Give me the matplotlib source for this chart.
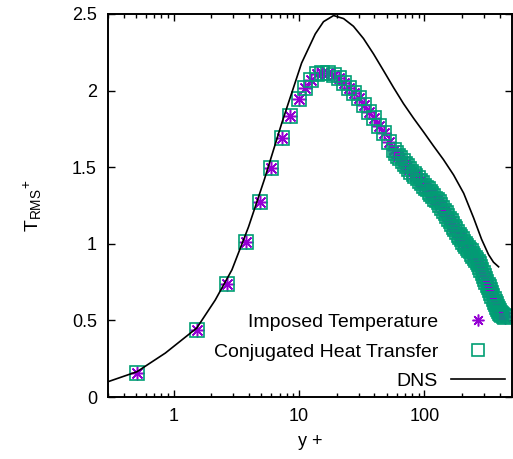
import matplotlib
matplotlib.use('Agg')
import matplotlib.pyplot as plt
from matplotlib.ticker import LogLocator, FixedLocator, NullFormatter

plt.rcParams['font.family'] = ['Liberation Sans', 'DejaVu Sans']
plt.rcParams['mathtext.default'] = 'regular'

# wall distance y+ of the LES points and the two RMS temperature profiles
y_plus = [0.513, 1.55, 2.66, 3.75, 4.91, 6.01, 7.31, 8.52, 9.93, 11.2, 12.5, 13.9,
          15.4, 17.2, 18.9, 20.7, 22.7, 24.9, 27.3, 29.9, 32.8, 35.9, 39.4, 43.2,
          47.3, 51.9, 56.8, 59.5, 62, 64.5, 67, 70, 73, 76, 79, 82, 85, 88.5, 92,
          95.5, 99, 102.5, 106, 110, 114, 118, 122, 126, 130, 134.5, 139, 143.5,
          148, 152.5, 157, 162, 167, 172, 177, 182.5, 188, 193.5, 199, 204.5, 210,
          216, 222, 228, 234, 240, 246, 252.5, 259, 265.5, 272, 278.5, 285, 292,
          299, 306, 313, 320, 327, 334.5, 342, 349.5, 357, 364.5, 372, 380, 388,
          396, 404, 412, 420, 428, 436]
t_imposed = [0.155, 0.437, 0.735, 1.01, 1.275, 1.497, 1.689, 1.834, 1.945, 2.02, 2.07,
             2.108, 2.117, 2.117, 2.10, 2.08, 2.05, 2.02, 1.986, 1.95, 1.906, 1.862,
             1.819, 1.769, 1.721, 1.666, 1.612, 1.593, 1.574, 1.557, 1.54, 1.522,
             1.505, 1.488, 1.472, 1.458, 1.445, 1.427, 1.41, 1.395, 1.38, 1.367,
             1.355, 1.34, 1.325, 1.31, 1.295, 1.283, 1.27, 1.252, 1.235, 1.217, 1.20,
             1.183, 1.165, 1.148, 1.13, 1.112, 1.095, 1.077, 1.06, 1.045, 1.03, 1.015,
             1.00, 0.987, 0.975, 0.962, 0.95, 0.935, 0.92, 0.907, 0.895, 0.882, 0.87,
             0.85, 0.83, 0.81, 0.79, 0.77, 0.75, 0.732, 0.715, 0.697, 0.68, 0.66,
             0.64, 0.622, 0.605, 0.59, 0.575, 0.562, 0.55, 0.542, 0.535, 0.53, 0.525]
t_conjugated = list(t_imposed)

# DNS reference profile
dns_y = [0.3, 0.51, 0.86, 1.53, 2.15, 2.92, 3.96, 5.3, 7.31, 10.5, 13.5, 15.7, 18.9,
         22.7, 27.2, 32.7, 39.3, 47.3, 56.8, 68.2, 82, 98.6, 118, 142, 171, 206,
         247, 286, 325, 356, 391]
dns_t = [0.10, 0.165, 0.287, 0.45, 0.633, 0.83, 1.11, 1.42, 1.79, 2.18, 2.37, 2.45,
         2.49, 2.47, 2.42, 2.34, 2.24, 2.13, 2.02, 1.915, 1.82, 1.73, 1.64, 1.55,
         1.45, 1.33, 1.17, 1.03, 0.93, 0.88, 0.85]

fig = plt.figure(figsize=(5.13, 4.59), dpi=100)
ax = fig.add_axes([0.2105, 0.135, 0.7875, 0.8345])

ax.plot(y_plus, t_imposed, linestyle='none', marker=(8, 2, 0), ms=10,
        mew=1.1, color='#9400d3', label='Imposed Temperature')
ax.plot(y_plus, t_conjugated, linestyle='none', marker='s', ms=10,
        mew=1.2, mfc='none', mec='#009e73', label='Conjugated Heat Transfer')
ax.plot(dns_y, dns_t, color='black', lw=1.2, label='DNS')

ax.set_xscale('log')
ax.set_xlim(0.3, 500)
ax.set_ylim(0, 2.5)
ax.xaxis.set_major_locator(FixedLocator([1, 10, 100]))
ax.xaxis.set_minor_locator(LogLocator(base=10, subs=range(2, 10)))
ax.xaxis.set_minor_formatter(NullFormatter())
ax.set_xticklabels(['1', '10', '100'])
ax.set_yticks([0, 0.5, 1, 1.5, 2, 2.5])
ax.set_yticklabels(['0', '0.5', '1', '1.5', '2', '2.5'])

ax.tick_params(which='both', direction='in', top=True, right=True, labelsize=13, pad=8)
ax.tick_params(which='major', length=5, width=1)
ax.tick_params(which='minor', length=3, width=1)
for s in ax.spines.values():
    s.set_linewidth(1.4)

ax.set_xlabel('y +', fontsize=13, labelpad=6)
ax.set_ylabel(r'$T_{RMS}{}^{+}$', fontsize=14, labelpad=20)

ax.legend(loc='lower right', frameon=False, markerfirst=False, fontsize=14,
          handlelength=2.8, handletextpad=0.65, labelspacing=0.62,
          borderaxespad=0.0, borderpad=0.35, markerscale=0.85)

fig.savefig('out.png', dpi=100)
